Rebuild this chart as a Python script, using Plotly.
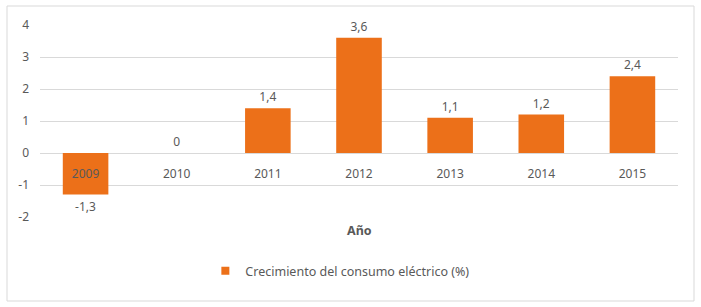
import plotly.graph_objects as go

years = ["2009", "2010", "2011", "2012", "2013", "2014", "2015"]
growth = [-1.3, 0, 1.4, 3.6, 1.1, 1.2, 2.4]
labels = [("%g" % v).replace(".", ",") for v in growth]
series_name = "Crecimiento del consumo eléctrico (%)"
y_ticks = [-2, -1, 0, 1, 2, 3, 4]
y_ticktext = [str(v) for v in y_ticks]

W, H = 701, 307
L, R, T, B = 40, 23, 25, 90
ymin, ymax = -2, 4
font = "Noto Sans"
gray = "#595959"
orange = "#EC7019"

fig = go.Figure()
fig.add_trace(go.Bar(
    x=years, y=growth, name=series_name,
    marker=dict(color=orange, line=dict(width=0)),
    width=0.5,
    text=labels, textposition="outside", cliponaxis=False,
    textfont=dict(family=font, size=12, color=gray),
    showlegend=False,
))
# legend entry with a small square swatch
fig.add_trace(go.Scatter(
    x=[None], y=[None], mode="markers", name=series_name,
    marker=dict(symbol="square", size=8, color=orange),
    showlegend=True,
))

plot_h = H - T - B
zero_pos = (0 - ymin) / (ymax - ymin)

fig.update_layout(
    width=W, height=H,
    margin=dict(l=L, r=R, t=T, b=B),
    paper_bgcolor="white", plot_bgcolor="white",
    font=dict(family=font, size=12, color=gray),
    separators=",.",
    xaxis=dict(
        type="category", anchor="free", position=zero_pos,
        categoryorder="array", categoryarray=years,
        showgrid=False, showline=False, zeroline=False,
        ticks="", ticklabelstandoff=12,
        tickfont=dict(family=font, size=12, color=gray),
    ),
    yaxis=dict(
        range=[ymin, ymax], tickvals=y_ticks, ticktext=y_ticktext,
        showgrid=True, gridcolor="#D9D9D9", gridwidth=1,
        zeroline=True, zerolinecolor="#D9D9D9", zerolinewidth=1,
        showline=False, ticks="", ticklabelstandoff=10,
        tickfont=dict(family=font, size=12, color=gray),
    ),
    legend=dict(
        orientation="h", x=0.47, xanchor="center",
        y=(T + plot_h - 271) / plot_h, yanchor="middle",
        font=dict(family=font, size=12.5, color=gray),
        itemwidth=30,
    ),
    annotations=[dict(
        text="<b>Año</b>", xref="paper", yref="paper",
        x=0.5, y=(T + plot_h - 230) / plot_h, xanchor="center", yanchor="middle",
        showarrow=False, font=dict(family=font, size=12.5, color=gray),
    )],
    shapes=[dict(
        type="rect", xref="paper", yref="paper",
        x0=(7 - L) / (W - L - R), x1=(694 - L) / (W - L - R),
        y0=(T + plot_h - 301) / plot_h, y1=(T + plot_h - 6) / plot_h,
        line=dict(color="#D9D9D9", width=1), fillcolor="rgba(0,0,0,0)",
        layer="below",
    )],
    bargap=0.5,
)

fig.write_html("out.html")
